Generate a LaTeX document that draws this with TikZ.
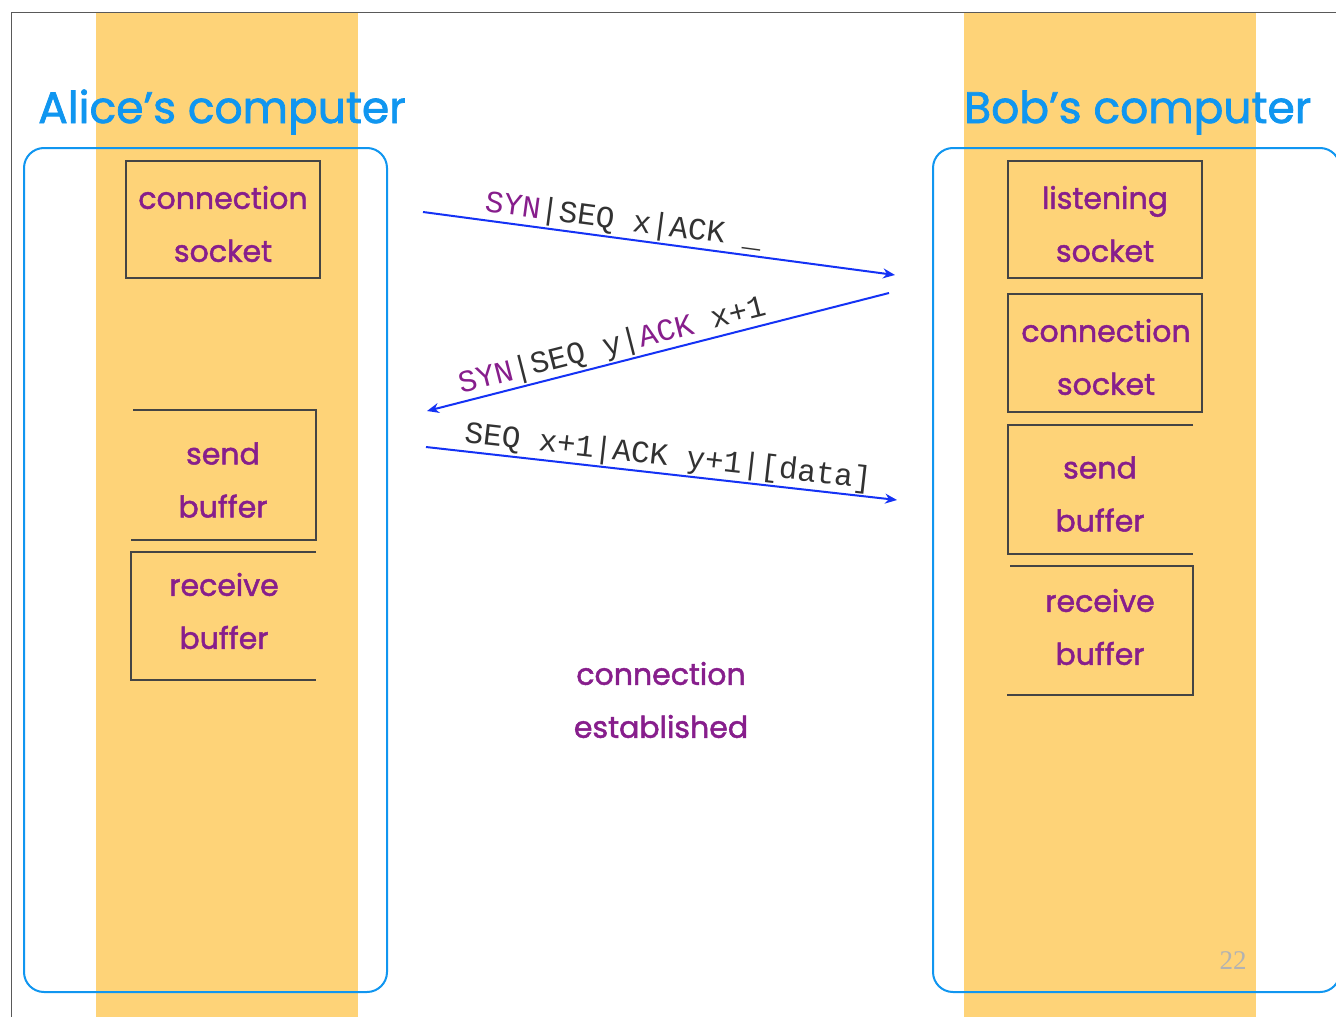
\documentclass[tikz,border=0pt]{standalone}
\usepackage{fontspec}
\usetikzlibrary{arrows.meta}
\setmainfont{Poppins}[FakeBold=1.6]
\newfontfamily\codefont{Liberation Mono}
\newfontfamily\numfont{Liberation Serif}
\definecolor{band}{RGB}{254,211,120}
\definecolor{titleblue}{RGB}{16,150,240}
\definecolor{arrowblue}{RGB}{20,50,245}
\definecolor{txtpurple}{RGB}{135,30,140}
\definecolor{boxgray}{RGB}{68,68,68}
\definecolor{codegray}{RGB}{50,50,50}
\begin{document}
\begin{tikzpicture}[x=1pt,y=-1pt,
  title/.style={text=titleblue, font=\fontsize{44}{50}\selectfont, anchor=base west, inner sep=0pt},
  word/.style={text=txtpurple, font=\fontsize{30}{53}\selectfont, align=center, inner sep=0pt},
  sockbox/.style={draw=boxgray, line width=2.4pt},
  compbox/.style={draw=titleblue, line width=2pt, rounded corners=20pt},
  msg/.style={draw=arrowblue, line width=2pt, -{Stealth[length=12pt,width=10pt]}},
  lbl/.style={text=codegray, font=\codefont\fontsize{31}{32}\selectfont, sloped, above, inner sep=2pt},
  syn/.style={text=txtpurple}
]
\useasboundingbox (0,0) rectangle (1336,1017);
\fill[white] (0,0) rectangle (1336,1017);
% bands
\fill[band] (96,12) rectangle (358,1017);
\fill[band] (964,12) rectangle (1256,1017);
% frame
\draw[gray!70!black, line width=0.8pt] (11,1017) -- (11,12) -- (1336,12);
% computers
\draw[compbox] (24,148) rectangle (387,992);
\draw[compbox] (933,148) rectangle (1340,992);
\node[title] (alice) at (38,123) {Alice’s computer};
\node[title] (bob) at (964,123) {Bob’s computer};
% Alice boxes
\draw[sockbox] (126,161) rectangle (320,278);
\node[word] (asock) at (223,224) {connection\\socket};
\draw[sockbox] (133,410) -- (316,410) -- (316,540) -- (131,540);
\node[word] (asend) at (223,480) {send\\buffer};
\draw[sockbox] (316,552) -- (131,552) -- (131,680) -- (316,680);
\node[word] (arecv) at (224,611) {receive\\buffer};
% Bob boxes
\draw[sockbox] (1008,161) rectangle (1202,278);
\node[word] (blisten) at (1105,224) {listening\\socket};
\draw[sockbox] (1008,294) rectangle (1202,412);
\node[word] (bsock) at (1106,357) {connection\\socket};
\draw[sockbox] (1193,425) -- (1008,425) -- (1008,554) -- (1193,554);
\node[word] (bsend) at (1100,494) {send\\buffer};
\draw[sockbox] (1010,566) -- (1193,566) -- (1193,695) -- (1007,695);
\node[word] (brecv) at (1100,627) {receive\\buffer};
% established
\node[word] (est) at (661,700) {connection\\established};
% arrows
\coordinate (a1s) at (423,212);
\coordinate (a1e) at (895,275);
\coordinate (a2s) at (889,293);
\coordinate (a2e) at (427,411);
\coordinate (a3s) at (426,447);
\coordinate (a3e) at (897,500);
\draw[msg] (a1s) -- (a1e);
\draw[msg] (a2s) -- (a2e);
\draw[msg] (a3s) -- (a3e);
\path (a1s) -- node[lbl, pos=0.42] (l1) {\textcolor{txtpurple}{SYN}|SEQ x|ACK \_} (a1e);
\path (a2e) -- node[lbl, pos=0.41] (l2) {\textcolor{txtpurple}{SYN}|SEQ y|\textcolor{txtpurple}{ACK} x+1} (a2s);
\path (a3s) -- node[lbl, pos=0.51] (l3) {SEQ x+1|ACK y+1|[data]} (a3e);
% page number
\node[text=gray!60, font=\numfont\fontsize{27}{28}\selectfont, inner sep=0pt] (pg) at (1233,961) {22};
\end{tikzpicture}
\end{document}
